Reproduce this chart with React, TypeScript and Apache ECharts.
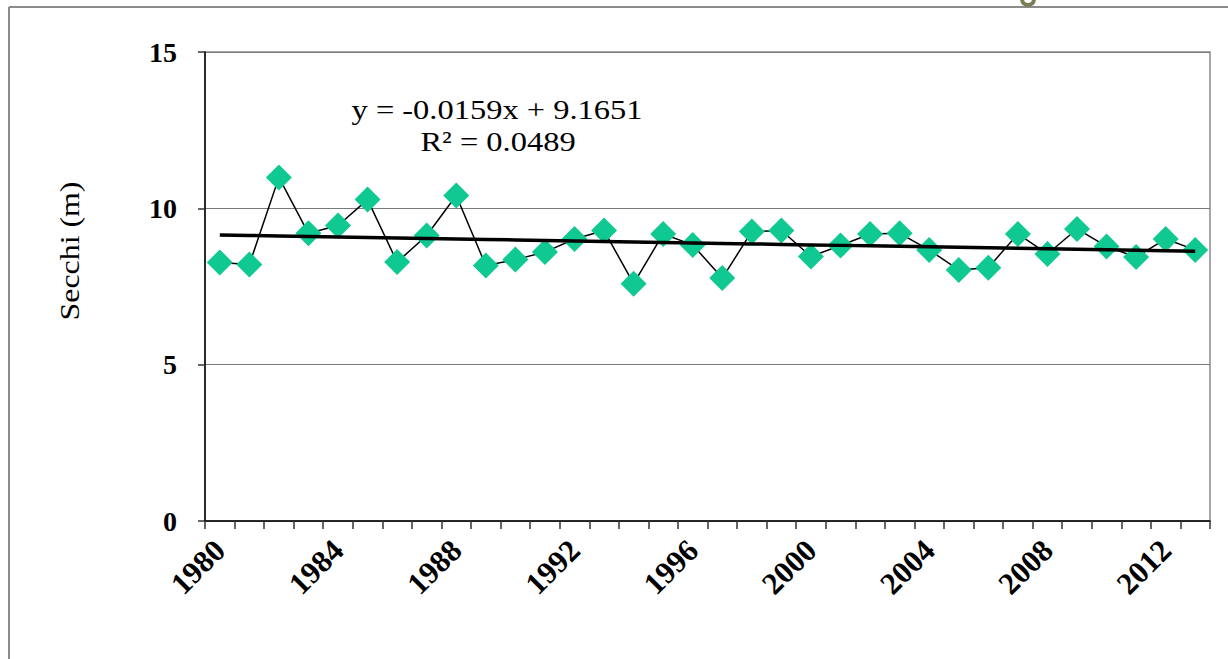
import React, { useEffect, useRef } from 'react';
import * as echarts from 'echarts';

const YEARS = [
  '1980', '1981', '1982', '1983', '1984', '1985', '1986', '1987', '1988', '1989',
  '1990', '1991', '1992', '1993', '1994', '1995', '1996', '1997', '1998', '1999',
  '2000', '2001', '2002', '2003', '2004', '2005', '2006', '2007', '2008', '2009',
  '2010', '2011', '2012', '2013',
];
const SECCHI = [
  8.27, 8.2, 10.99, 9.2, 9.45, 10.28, 8.28, 9.13, 10.41, 8.17,
  8.36, 8.6, 9.02, 9.29, 7.59, 9.18, 8.83, 7.77, 9.26, 9.29,
  8.46, 8.81, 9.18, 9.2, 8.67, 8.03, 8.1, 9.18, 8.54, 9.34,
  8.78, 8.44, 9.02, 8.67,
];
const TREND_SLOPE = -0.0159;
const TREND_INTERCEPT = 9.1651;
const EQUATION_TEXT = 'y = -0.0159x + 9.1651';
const R2_TEXT = 'R² = 0.0489';
const Y_AXIS_NAME = 'Secchi (m)';
const Y_MIN = 0;
const Y_MAX = 15;
const Y_STEP = 5;

const SERIF = "'Liberation Serif', 'Times New Roman', Times, serif";

export default function App() {
  const ref = useRef<HTMLDivElement>(null);
  useEffect(() => {
    const chart = echarts.init(ref.current!, null, { renderer: 'svg' });
    const trend = YEARS.map((_, i) => +(TREND_SLOPE * (i + 1) + TREND_INTERCEPT).toFixed(4));
    chart.setOption({
      animation: false,
      backgroundColor: '#ffffff',
      grid: {
        left: 205,
        top: 52,
        right: 18,
        bottom: 138,
        show: true,
        borderColor: '#8a8a8a',
        borderWidth: 1.5,
        backgroundColor: 'transparent',
      },
      xAxis: {
        type: 'category',
        data: YEARS,
        boundaryGap: true,
        axisLine: { show: true, lineStyle: { color: '#000', width: 1.5 } },
        axisTick: { show: true, interval: 0, length: 8, lineStyle: { color: '#333', width: 1.5 } },
        axisLabel: {
          interval: 3,
          rotate: 45,
          fontFamily: SERIF,
          fontWeight: 'bold',
          fontSize: 31,
          color: '#000',
          margin: 24,
        },
        splitLine: { show: false },
      },
      yAxis: {
        type: 'value',
        min: Y_MIN,
        max: Y_MAX,
        interval: Y_STEP,
        axisLine: { show: true, lineStyle: { color: '#000', width: 1.5 } },
        axisTick: { show: true, length: 7, lineStyle: { color: '#333', width: 1.5 } },
        axisLabel: {
          fontFamily: SERIF,
          fontWeight: 'bold',
          fontSize: 28,
          color: '#000',
          margin: 28,
        },
        splitLine: { show: true, lineStyle: { color: '#7a7a7a', width: 1 } },
      },
      series: [
        {
          type: 'line',
          data: SECCHI,
          symbol: 'diamond',
          symbolSize: 26,
          showAllSymbol: true,
          itemStyle: { color: '#10c992' },
          lineStyle: { color: '#000', width: 1.5 },
          z: 2,
        },
        {
          type: 'line',
          data: trend,
          symbol: 'none',
          lineStyle: { color: '#000', width: 3.5 },
          z: 3,
        },
      ],
      graphic: [
        {
          type: 'line',
          shape: { x1: 9, y1: 7, x2: 1228, y2: 7 },
          style: { stroke: '#8c8c8c', lineWidth: 2 },
        },
        {
          type: 'line',
          shape: { x1: 9, y1: 7, x2: 9, y2: 659 },
          style: { stroke: '#8c8c8c', lineWidth: 2 },
        },
        {
          type: 'arc',
          shape: { cx: 1028, cy: -1, r: 6, startAngle: 0, endAngle: Math.PI, clockwise: true },
          style: { stroke: '#7d7d55', lineWidth: 4, fill: 'none' },
        },
        {
          type: 'text',
          x: 497,
          y: 110,
          scaleX: 1.16,
          style: {
            text: EQUATION_TEXT,
            font: "28px 'Liberation Serif', 'Times New Roman', serif",
            fill: '#000',
            textAlign: 'center',
            textVerticalAlign: 'middle',
          },
        },
        {
          type: 'text',
          x: 498,
          y: 142,
          scaleX: 1.16,
          style: {
            text: R2_TEXT,
            font: "28px 'Liberation Serif', 'Times New Roman', serif",
            fill: '#000',
            textAlign: 'center',
            textVerticalAlign: 'middle',
          },
        },
        {
          type: 'text',
          x: 70,
          y: 251,
          rotation: Math.PI / 2,
          scaleX: 1.18,
          style: {
            text: Y_AXIS_NAME,
            font: "27px 'Liberation Serif', 'Times New Roman', serif",
            fill: '#000',
            textAlign: 'center',
            textVerticalAlign: 'middle',
          },
        },
      ],
    });
    return () => chart.dispose();
  }, []);
  return (
    <div
      ref={ref}
      style={{ position: 'fixed', left: 0, top: 0, width: 1228, height: 659, background: '#fff' }}
    />
  );
}
